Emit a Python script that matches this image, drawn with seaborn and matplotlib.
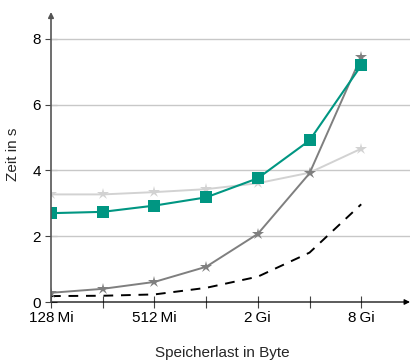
import matplotlib
matplotlib.use("Agg")
import matplotlib.pyplot as plt
import seaborn as sns
import pandas as pd

sizes = [2**27, 2**28, 2**29, 2**30, 2**31, 2**32, 2**33]
teal_vals = [2.70, 2.74, 2.93, 3.18, 3.76, 4.91, 7.19]
light_vals = [3.27, 3.27, 3.34, 3.43, 3.61, 3.93, 4.66]
dark_vals = [0.28, 0.40, 0.61, 1.07, 2.07, 3.91, 7.46]
dashed_vals = [0.18, 0.19, 0.23, 0.43, 0.77, 1.50, 2.97]
xtick_pos = [2**27, 2**29, 2**31, 2**33]
xtick_labels = ["128\u2009Mi", "512\u2009Mi", "2\u2009Gi", "8\u2009Gi"]
minor_pos = [2**28, 2**30, 2**32]
ytick_vals = [0, 2, 4, 6, 8]

sns.set_style("white")
plt.rcParams['font.family'] = ['Liberation Sans', 'DejaVu Sans']

fig = plt.figure(figsize=(4.12, 3.62), dpi=100)
ax = fig.add_axes([51/412, 60/362, 359/412, 290/362])

df = pd.DataFrame({"x": sizes, "teal": teal_vals, "light": light_vals,
                   "dark": dark_vals, "dashed": dashed_vals})

sns.lineplot(data=df, x="x", y="dashed", ax=ax, color="black", lw=1.4,
             linestyle=(0, (5, 4)), zorder=3)
sns.lineplot(data=df, x="x", y="light", ax=ax, color="#d2d2d2", lw=1.4,
             marker="*", markersize=9, markeredgewidth=0, zorder=4)
sns.lineplot(data=df, x="x", y="dark", ax=ax, color="#7f7f7f", lw=1.4,
             marker="*", markersize=9, markeredgewidth=0, zorder=5)
sns.lineplot(data=df, x="x", y="teal", ax=ax, color="#009682", lw=1.5,
             marker="s", markersize=8, markeredgewidth=0, zorder=6)

ax.set_xscale("log", base=2)
ax.set_xlim(2**27, 2**(27 + 359/51.7))
ax.set_ylim(0, 290/32.9)

ax.set_xticks(xtick_pos)
ax.set_xticklabels(xtick_labels)
ax.set_xticks(minor_pos, minor=True)
ax.set_xticklabels([], minor=True)
ax.set_yticks(ytick_vals)
ax.set_yticklabels([str(v) for v in ytick_vals])

ax.tick_params(axis="both", which="both", direction="inout", length=8.5,
               width=0.8, color="#444444", labelsize=11, colors="black")
ax.tick_params(axis="x", which="both", bottom=True, pad=2)
ax.tick_params(axis="y", left=True, pad=3)

for y in ytick_vals[1:]:
    ax.axhline(y, color="#c8c8c8", lw=1.0, zorder=1)

for s in ["top", "right", "left", "bottom"]:
    ax.spines[s].set_visible(False)

ax.annotate("", xy=(1.0, 0), xytext=(0, 0), xycoords="axes fraction",
            arrowprops=dict(arrowstyle="-|>", color="black", lw=0.9,
                            mutation_scale=8, shrinkA=0, shrinkB=0), zorder=10)
ax.annotate("", xy=(0, 1.0), xytext=(0, 0), xycoords="axes fraction",
            arrowprops=dict(arrowstyle="-|>", color="#555555", lw=1.2,
                            mutation_scale=8, shrinkA=0, shrinkB=0), zorder=10)

ax.set_xlabel("Speicherlast in Byte", fontsize=11)
ax.set_ylabel("Zeit in s", fontsize=11)
ax.xaxis.set_label_coords((222 - 51) / 359, -(346 - 302) / 290)
ax.yaxis.set_label_coords(-(51 - 20) / 359, (302 - 154) / 290)

fig.savefig("out.png", dpi=100)
